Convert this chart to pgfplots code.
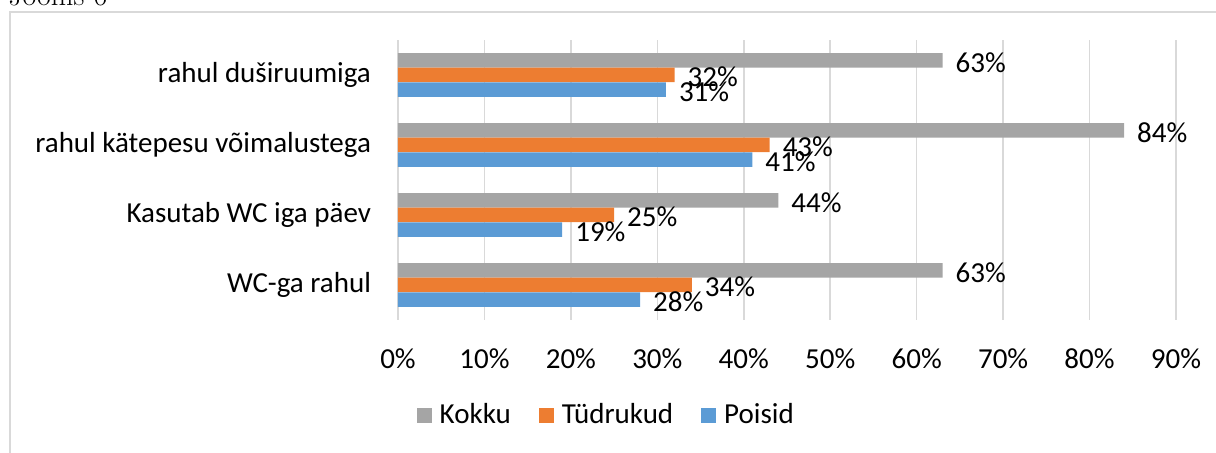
\documentclass[border=0pt]{standalone}
\usepackage{pgfplots}
\pgfplotsset{compat=1.18}
\usepackage{fontspec}
\setmainfont{Carlito}
\newfontfamily\serifttl{Latin Modern Roman}
\definecolor{cgray}{HTML}{A5A5A5}
\definecolor{corange}{HTML}{ED7D31}
\definecolor{cblue}{HTML}{5B9BD5}
\definecolor{cgrid}{HTML}{D9D9D9}
\begin{document}
\begin{tikzpicture}[x=1pt,y=1pt]
\useasboundingbox (0,0) rectangle (608,226.5);
\draw[cgrid, line width=0.8pt] (5,-10) rectangle (640,220.5);
\node[anchor=base west, inner sep=0pt, font=\serifttl\fontsize{15}{17}\selectfont] at (4,223.5) {Joonis 6};
\begin{axis}[
  at={(199pt,66.5pt)}, anchor=south west,
  scale only axis, width=389pt, height=140pt,
  xmin=0, xmax=90, ymin=-0.5, ymax=3.5,
  xtick={0,10,...,90},
  xticklabel={\pgfmathprintnumber{\tick}\%},
  /pgf/number format/assume math mode=true,
  ytick={0,1,2,3},
  yticklabels={WC-ga rahul, Kasutab WC iga päev, rahul kätepesu võimalustega, rahul duširuumiga},
  xmajorgrids, grid style={cgrid, line width=0.8pt},
  major tick length=0pt,
  axis line style={draw=none},
  axis x line*=bottom, axis y line*=left,
  tick label style={font=\fontsize{14.5}{16}\selectfont},
  yticklabel style={xshift=-10pt},
  xticklabel style={yshift=-11pt},
  xbar, bar width=0.207,
  nodes near coords={\pgfmathprintnumber{\pgfplotspointmeta}\%},
  every node near coord/.append style={font=\fontsize{14.5}{16}\selectfont, xshift=3pt, yshift=-1pt},
  legend style={at={(0.269,-0.34)}, anchor=center, draw=none, legend columns=3,
    font=\fontsize{14.5}{16}\selectfont,
    /tikz/every odd column/.append style={column sep=2pt},
    /tikz/every even column/.append style={column sep=12pt}},
  legend image code/.code={\fill (0pt,-3.75pt) rectangle (7.5pt,3.75pt);},
  clip=false,
]
\addplot[fill=cgray, draw=none, bar shift=0.21] coordinates {(63,0) (44,1) (84,2) (63,3)};
\addplot[fill=corange, draw=none, bar shift=0] coordinates {(34,0) (25,1) (43,2) (32,3)};
\addplot[fill=cblue, draw=none, bar shift=-0.21] coordinates {(28,0) (19,1) (41,2) (31,3)};
\legend{Kokku, Tüdrukud, Poisid}
\end{axis}
\end{tikzpicture}
\end{document}
